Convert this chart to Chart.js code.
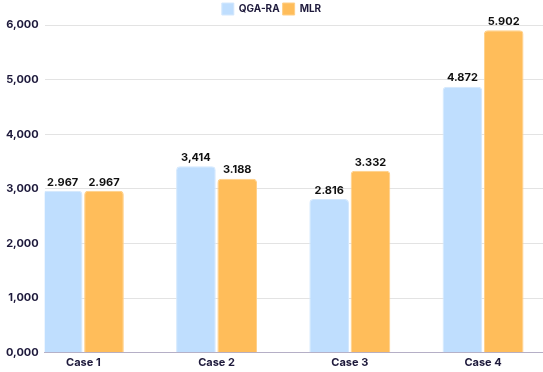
<!DOCTYPE html>
<html lang="en">
<head>
  <meta charset="UTF-8">
  <title>QGA-RA vs MLR</title>
  <script src="https://cdn.jsdelivr.net/npm/chart.js"></script>
  <style>
    body {
      margin: 0;
      background-color: #ffffff;
    }
    .chart-container {
      width: 543px;
      height: 372px;
    }
  </style>
</head>
<body>
  <div class="chart-container">
    <canvas id="resultChart"></canvas>
  </div>

  <script>
    const cases = ['Case 1', 'Case 2', 'Case 3', 'Case 4'];
    const qgaValues = [2.967, 3.414, 2.816, 4.872];
    const mlrValues = [2.967, 3.188, 3.332, 5.902];
    // printed value labels (the source mixes comma and dot)
    const qgaText = ['2.967', '3,414', '2.816', '4.872'];
    const mlrText = ['2.967', '3.188', '3.332', '5.902'];
    const yTicks = [0, 1, 2, 3, 4, 5, 6];

    const inkColor = '#1e1a3c';
    const fontFamily = 'Inter, "Noto Sans", sans-serif';

    // values on top of each bar
    const valueLabels = {
      id: 'valueLabels',
      afterDatasetsDraw(chart) {
        const ctx = chart.ctx;
        ctx.save();
        ctx.font = 'bold 11px ' + fontFamily;
        ctx.fillStyle = '#111111';
        ctx.textAlign = 'center';
        ctx.textBaseline = 'bottom';
        chart.data.datasets.forEach((ds, d) => {
          const meta = chart.getDatasetMeta(d);
          meta.data.forEach((bar, i) => {
            ctx.fillText(ds.valueText[i], bar.x, bar.y - 3);
          });
        });
        ctx.restore();
      }
    };

    const ctx = document.getElementById('resultChart').getContext('2d');

    new Chart(ctx, {
      type: 'bar',
      data: {
        datasets: [{
          label: 'QGA-RA',
          data: qgaValues.map((v, i) => ({ x: i, y: v })),
          valueText: qgaText,
          backgroundColor: '#bfdefe',
          borderColor: '#d4e8fd',
          borderWidth: 1,
          borderRadius: 4,
          borderSkipped: 'bottom'
        }, {
          label: 'MLR',
          data: mlrValues.map((v, i) => ({ x: i, y: v })),
          valueText: mlrText,
          backgroundColor: '#ffbd5a',
          borderColor: '#ffcf86',
          borderWidth: 1,
          borderRadius: 4,
          borderSkipped: 'bottom'
        }]
      },
      options: {
        responsive: true,
        maintainAspectRatio: false,
        animation: false,
        layout: {
          padding: { top: 0, right: 0, bottom: 0, left: 0 }
        },
        datasets: {
          bar: {
            categoryPercentage: 0.62,
            barPercentage: 0.96
          }
        },
        plugins: {
          tooltip: { enabled: false },
          legend: {
            position: 'top',
            labels: {
              boxWidth: 12,
              boxHeight: 12,
              padding: 3,
              color: inkColor,
              font: { family: fontFamily, size: 10, weight: 'bold' }
            }
          }
        },
        scales: {
          x: {
            type: 'linear',
            offset: false,
            min: -0.29,
            max: 3.45,
            afterBuildTicks: (scale) => {
              scale.ticks = cases.map((c, i) => ({ value: i }));
            },
            grid: { display: false, drawTicks: false },
            border: { display: true, color: '#b5afc6', width: 1 },
            ticks: {
              color: inkColor,
              padding: 3,
              font: { family: fontFamily, size: 11, weight: 'bold' },
              callback: (value) => cases[value]
            }
          },
          y: {
            min: 0,
            max: 6,
            afterBuildTicks: (scale) => {
              scale.ticks = yTicks.map(v => ({ value: v }));
            },
            grid: { color: '#e3e3e3', drawTicks: false },
            border: { display: false },
            ticks: {
              color: inkColor,
              padding: 6,
              font: { family: fontFamily, size: 11, weight: 'bold' },
              callback: (value) => value.toFixed(3).replace('.', ',')
            }
          }
        }
      },
      plugins: [valueLabels]
    });
  </script>
</body>
</html>
